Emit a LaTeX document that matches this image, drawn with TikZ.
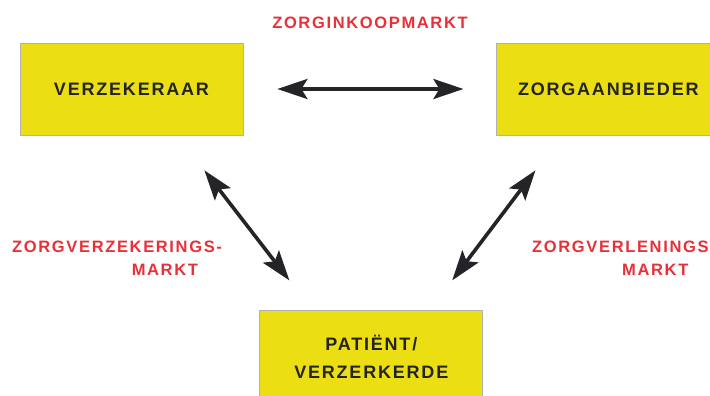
\documentclass[tikz,border=0pt]{standalone}
\usepackage{fontspec}
\setmainfont{Liberation Sans}
\newfontfamily\marketfont{Liberation Sans}[LetterSpace=10]
\usetikzlibrary{arrows.meta, positioning}
\definecolor{boxyellow}{RGB}{235,222,18}
\definecolor{marketred}{RGB}{232,48,56}
\definecolor{inkgray}{RGB}{36,36,40}

\begin{document}
\begin{tikzpicture}[node distance=253pt, >={Stealth[length=30pt, width=20pt, inset=6pt]},
    actor/.style={draw=black!30, line width=0.8pt, fill=boxyellow, minimum width=223pt, minimum height=92pt,
        inner sep=0pt, align=center, text=inkgray, font=\marketfont\bfseries\fontsize{18}{28}\selectfont},
    market/.style={text=marketred, inner sep=0pt, font=\marketfont\bfseries\fontsize{16.5}{23}\selectfont},
    link/.style={<->, line width=3.6pt, color=inkgray}]
    \useasboundingbox (0,0) rectangle (710pt,-396pt);

    \node[actor] (verz) at (131.5pt,-89pt) {VERZEKERAAR};
    \node[actor, right=253pt of verz] (aanb) {ZORGAANBIEDER};
    \node[actor, below right=175pt and 16pt of verz.south east] (pat) {PATIËNT/\\VERZERKERDE};

    \coordinate[below left=35pt and 39pt of verz.south east] (vtop);
    \coordinate[above right=30pt and 30pt of pat.north west] (pleft);
    \coordinate[below right=35pt and 39pt of aanb.south west] (atop);
    \coordinate[above left=30pt and 31pt of pat.north east] (pright);

    \draw[link, shorten <=34pt, shorten >=33pt] (verz) -- (aanb);
    \draw[link] (vtop) -- (pleft);
    \draw[link] (pright) -- (atop);

    \node[market] (inkoop) at (370pt,-23pt) {ZORGINKOOPMARKT};
    \node[market, align=right, anchor=west] (verzmarkt) at (12pt,-258.5pt) {ZORGVERZEKERINGS-\\MARKT\hspace*{24pt}};
    \node[market, align=left, anchor=west] (verlmarkt) at (532pt,-258.5pt) {ZORGVERLENINGS\\\hspace*{90pt}MARKT};
\end{tikzpicture}
\end{document}
